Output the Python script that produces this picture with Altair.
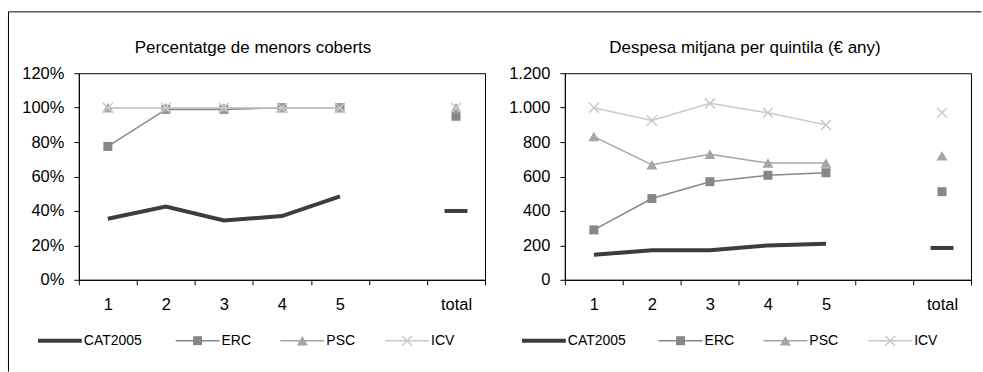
import altair as alt
import pandas as pd

FONT = "Liberation Sans"

categories = ["1", "2", "3", "4", "5", " ", "total"]
quintiles = ["1", "2", "3", "4", "5"]
series = ["CAT2005", "ERC", "PSC", "ICV"]

# Percentatge de menors coberts (%), quintils 1-5 i total
cob_cat2005 = [35.5, 42.5, 34.5, 37.0, 48.5]
cob_erc = [77.5, 99.0, 99.0, 100.0, 100.0]
cob_psc = [100.0, 100.0, 100.0, 100.0, 100.0]
cob_icv = [100.0, 100.0, 100.0, 100.0, 100.0]
cob_total = [40.0, 95.0, 100.0, 100.0]

# Despesa mitjana per quintila (€ any), quintils 1-5 i total
desp_cat2005 = [145, 172, 172, 200, 210]
desp_erc = [290, 472, 570, 607, 622]
desp_psc = [832, 668, 730, 678, 678]
desp_icv = [1000, 925, 1025, 970, 900]
desp_total = [185, 512, 720, 970]

STYLE = {
    "CAT2005": dict(color="#3d3d3d", width=4, shape="stroke", size=529, filled=False, mw=4),
    "ERC": dict(color="#878787", width=1.5, shape="square", size=81, filled=True, mw=1),
    "PSC": dict(color="#a5a5a5", width=1.5, shape="triangle-up", size=121, filled=True, mw=1),
    "ICV": dict(color="#c9c9c9", width=1.5, shape="M-1,-1L1,1M-1,1L1,-1", size=100, filled=False, mw=1.5),
}


def long_table(per_series, totals):
    rows = []
    for name, vals, tot in zip(series, per_series, totals):
        for q, v in zip(quintiles, vals):
            rows.append({"serie": name, "cat": q, "valor": v, "tipus": "quintil"})
        rows.append({"serie": name, "cat": "total", "valor": tot, "tipus": "total"})
    return pd.DataFrame(rows)


def marker(name, **kw):
    st = STYLE[name]
    return dict(shape=st["shape"], size=st["size"], filled=st["filled"], color=st["color"],
                strokeWidth=st["mw"], opacity=1, **kw)


def panel(df, title, title_x, ymax, step, label_expr, legend_starts, frame=False):
    x = alt.X(
        "cat:N",
        scale=alt.Scale(type="band", domain=categories, paddingInner=0, paddingOuter=0),
        axis=alt.Axis(title=None, labelAngle=0, tickBand="extent", grid=False),
    )
    y = alt.Y(
        "valor:Q",
        scale=alt.Scale(domain=[0, ymax], nice=False, zero=True),
        axis=alt.Axis(title=None, values=list(range(0, ymax + 1, step)),
                      labelExpr=label_expr, grid=False),
    )
    base = alt.Chart(df)
    layers = []
    for name in series:
        st = STYLE[name]
        sub = base.transform_filter(alt.datum.serie == name)
        layers.append(
            sub.transform_filter(alt.datum.tipus == "quintil")
            .mark_line(color=st["color"], strokeWidth=st["width"])
            .encode(x=x, y=y)
        )
        pts = sub if name != "CAT2005" else sub.transform_filter(alt.datum.tipus == "total")
        layers.append(pts.mark_point(**marker(name)).encode(x=x, y=y))

    # panel title above the plot
    td = alt.Chart(pd.DataFrame({"titol": [title]}))
    layers.append(
        td.mark_text(align="center", baseline="alphabetic", fontSize=17, font=FONT, color="black")
        .encode(x=alt.value(title_x), y=alt.value(-20), text="titol:N")
    )

    # legend row under the plot
    ly = 268
    for name, s in zip(series, legend_starts):
        st = STYLE[name]
        ld = alt.Chart(pd.DataFrame({"serie": [name]}))
        layers.append(
            ld.mark_rule(color=st["color"], strokeWidth=st["width"]).encode(
                x=alt.value(s), x2=alt.value(s + 44), y=alt.value(ly))
        )
        if name != "CAT2005":
            layers.append(ld.mark_point(**marker(name)).encode(x=alt.value(s + 22), y=alt.value(ly)))
        layers.append(
            ld.mark_text(align="left", baseline="middle", fontSize=14, font=FONT, color="black")
            .encode(x=alt.value(s + 46), y=alt.value(ly), text="serie:N")
        )

    if frame:
        fd = alt.Chart(pd.DataFrame({"k": [0]}))
        layers.append(fd.mark_rule(color="black", strokeWidth=1).encode(
            x=alt.value(-70.5), y=alt.value(-61.5), y2=alt.value(299)))
        layers.append(fd.mark_rule(color="black", strokeWidth=1).encode(
            x=alt.value(-70.5), x2=alt.value(904.5), y=alt.value(-61.5)))

    return alt.layer(*layers).properties(width=407, height=207)


left = panel(
    long_table([cob_cat2005, cob_erc, cob_psc, cob_icv], cob_total),
    "Percentatge de menors coberts", 174.5, 120, 20, "datum.value + '%'",
    [-41, 97, 202, 307], frame=True,
)
right = panel(
    long_table([desp_cat2005, desp_erc, desp_psc, desp_icv], desp_total),
    "Despesa mitjana per quintila (€ any)", 180.5, 1200, 200,
    "replace(format(datum.value, ','), ',', '.')",
    [-43, 94, 199, 304],
)

chart = (
    alt.hconcat(left, right, spacing=80, bounds="flush")
    .properties(padding={"left": 7, "top": 10, "right": 0, "bottom": 0})
    .configure(font=FONT)
    .configure_view(stroke="black", strokeWidth=1)
    .configure_axis(domainColor="black", tickColor="black", labelColor="black",
                    labelFont=FONT, labelFontSize=16.5, tickSize=5, domainWidth=1, tickWidth=1)
    .configure_axisX(labelPadding=12)
    .configure_axisY(labelPadding=10)
)

chart.save("out.html", embed_options={"renderer": "svg", "actions": False})
